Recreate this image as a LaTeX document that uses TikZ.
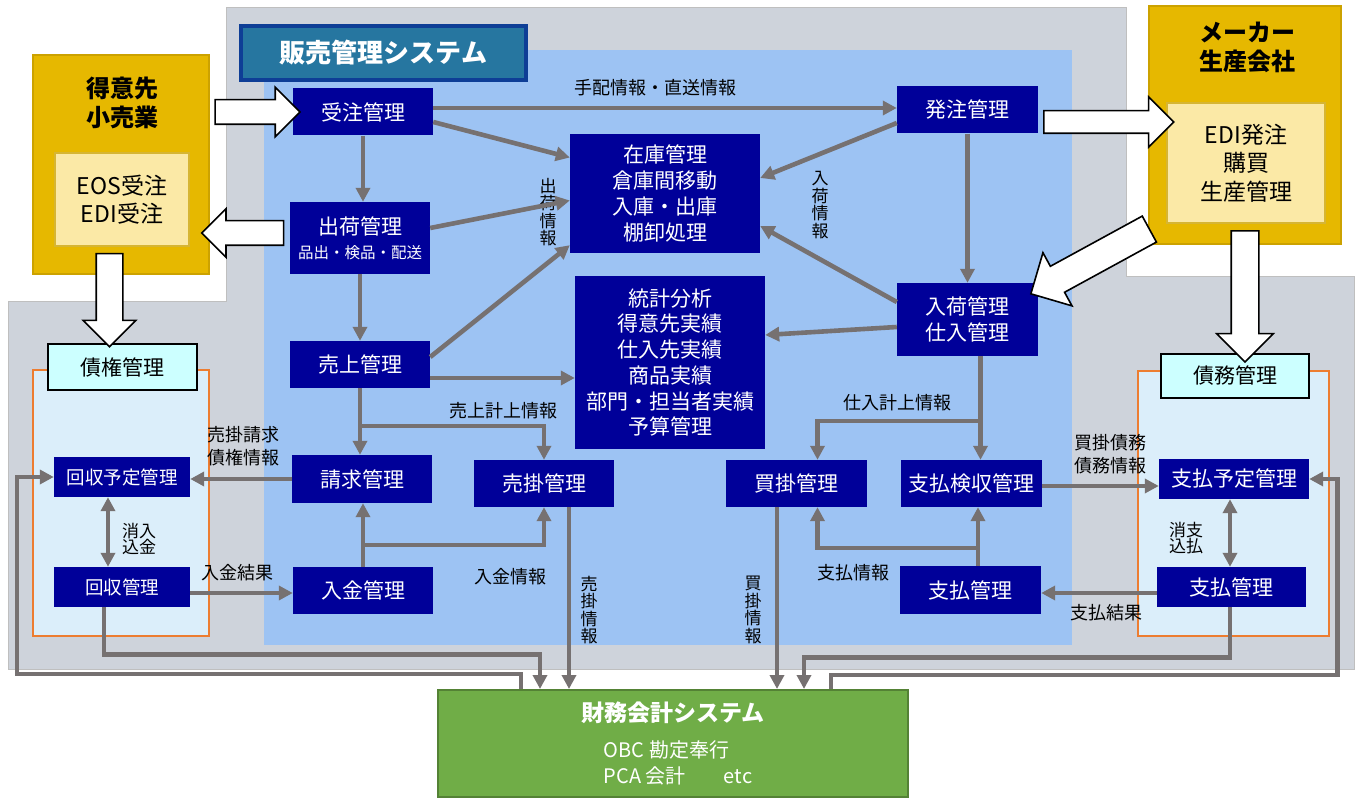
\documentclass[tikz,border=0pt]{standalone}
\usepackage{fontspec}
\setmainfont{Noto Sans CJK JP}
\usetikzlibrary{arrows.meta,shapes.arrows}

\definecolor{navy}{RGB}{0,0,153}
\definecolor{arrowgray}{RGB}{118,113,113}
\definecolor{areagray}{RGB}{206,211,219}
\definecolor{areablue}{RGB}{157,195,243}
\definecolor{ledgerfill}{RGB}{219,238,250}
\definecolor{ledgerline}{RGB}{237,125,49}
\definecolor{gold}{RGB}{230,184,0}
\definecolor{goldline}{RGB}{204,162,0}
\definecolor{paleyellow}{RGB}{251,233,166}
\definecolor{titleblue}{RGB}{38,118,160}
\definecolor{titleline}{RGB}{14,62,150}
\definecolor{acctgreen}{RGB}{112,173,71}
\definecolor{acctline}{RGB}{84,130,53}
\definecolor{palecyan}{RGB}{204,255,255}

\tikzstyle{region} = [-, draw=black!25, fill=areagray, line width=1pt]
\tikzstyle{ledger} = [-, draw=ledgerline, fill=ledgerfill, line width=2pt]
\tikzstyle{block} = [rectangle, fill=navy, text=white, align=center, inner sep=0pt,
    minimum width=140pt, minimum height=47pt, font=\fontsize{21}{25.7}\selectfont]
\tikzstyle{ledgerblock} = [block, minimum width=136pt, minimum height=40pt,
    font=\fontsize{18.5}{22}\selectfont]
\tikzstyle{ledgertitle} = [rectangle, draw=black, fill=palecyan, line width=2pt, inner sep=0pt,
    minimum width=149pt, minimum height=46pt, font=\fontsize{21}{25}\selectfont]
\tikzstyle{partner} = [rectangle, draw=goldline, fill=gold, line width=2pt]
\tikzstyle{partnerbox} = [rectangle, draw=goldline!80, fill=paleyellow, line width=2pt,
    align=center, inner sep=0pt, font=\fontsize{23}{28.5}\selectfont]
\tikzstyle{partnertitle} = [align=center, inner sep=0pt, font=\bfseries\fontsize{24}{28.5}\selectfont]
\tikzstyle{systitle} = [rectangle, draw=titleline, fill=titleblue, line width=3.5pt, text=white,
    minimum width=285pt, minimum height=54pt, font=\bfseries\fontsize{26}{30}\selectfont]
\tikzstyle{acctbox} = [rectangle, draw=acctline, fill=acctgreen, line width=2pt,
    minimum width=470pt, minimum height=107pt]
\tikzstyle{flow} = [color=arrowgray, line width=4.6pt]
\tikzstyle{flowlabel} = [align=center, inner sep=0pt, font=\fontsize{18}{23}\selectfont]
\tikzstyle{vlabel} = [align=center, inner sep=0pt, font=\fontsize{17}{17.5}\selectfont]
\tikzstyle{pairlabel} = [align=center, inner sep=0pt, font=\fontsize{17}{16.5}\selectfont]
\tikzstyle{bigarrow} = [single arrow, draw=black, fill=white, line width=1.6pt,
    inner xsep=0pt, inner ysep=11.5pt, sloped, allow upside down, single arrow head extend=12.5pt]

\begin{document}
\begin{tikzpicture}[->,>={Triangle[length=14pt,width=14pt]},x=1pt,y=-1pt]
  \useasboundingbox (0,0) rectangle (1355,799);

  % areas
  \draw[region] (226,8) -- (1126,8) -- (1126,277) -- (1354,277) -- (1354,669)
        -- (8,669) -- (8,302) -- (226,302) -- cycle;
  \fill[areablue] (264,50) rectangle (1072,645);
  \draw[ledger] (33,370) rectangle (209,636);
  \draw[ledger] (1138,371) rectangle (1329,636);

  % partners
  \node[partner, minimum width=176pt, minimum height=219pt] (tokui) at (121,164.5) {};
  \node[partnertitle] at (122,103) {得意先\\小売業};
  \node[partnerbox, minimum width=134pt, minimum height=93pt] (eos) at (122,199.5) {EOS受注\\EDI受注};
  \node[partner, minimum width=192pt, minimum height=238pt] (maker) at (1245,125) {};
  \node[partnertitle] at (1247,47.5) {メーカー\\生産会社};
  \node[partnerbox, minimum width=158pt, minimum height=120pt] (edi) at (1246,163) {EDI発注\\購買\\生産管理};

  \node[systitle] (sys) at (383.5,53) {販売管理システム};

  % sales system
  \node[block] (order) at (363,112) {受注管理};
  \node[block, minimum height=72pt] (ship) at (360,238)
       {出荷管理\\[-2pt]{\fontsize{15.5}{17}\selectfont 品出・検品・配送}};
  \node[block] (sales) at (360,364.5) {売上管理};
  \node[block, minimum width=190pt, minimum height=119pt] (stock) at (665,193.5)
       {在庫管理\\倉庫間移動\\入庫・出庫\\棚卸処理};
  \node[block, minimum width=190pt, minimum height=173pt] (stats) at (670,362.5)
       {統計分析\\得意先実績\\仕入先実績\\商品実績\\部門・担当者実績\\予算管理};
  \node[block, minimum width=141pt] (purch) at (967.5,110) {発注管理};
  \node[block, minimum width=141pt, minimum height=73pt] (recv) at (967.5,319.5) {入荷管理\\仕入管理};
  \node[block, minimum height=48pt] (bill) at (362,479) {請求管理};
  \node[block] (ar) at (544,483.5) {売掛管理};
  \node[block] (payin) at (363,590.5) {入金管理};
  \node[block, minimum width=141pt] (ap) at (796.5,483.5) {買掛管理};
  \node[block, minimum width=141pt] (insp) at (971.5,483.5) {支払検収管理};
  \node[block, minimum width=141pt, minimum height=48pt] (paymid) at (970.5,590) {支払管理};

  % ledgers
  \node[ledgertitle] (credit) at (122.5,367.5) {債権管理};
  \node[ledgerblock] (colplan) at (122,477) {回収予定管理};
  \node[ledgerblock] (col) at (122,587) {回収管理};
  \node[ledgertitle, minimum width=148pt, minimum height=44pt] (debt) at (1235,376) {債務管理};
  \node[ledgerblock, minimum width=150pt, font=\fontsize{21}{25}\selectfont] (payplan) at (1234,479) {支払予定管理};
  \node[ledgerblock, minimum width=149pt, font=\fontsize{21}{25}\selectfont] (pay) at (1231.5,587) {支払管理};

  % accounting
  \node[acctbox] (acct) at (673,743.5) {};
  \node[text=white, font=\bfseries\fontsize{23}{27}\selectfont] at (673,713) {財務会計システム};
  \node[text=white, align=left, font=\fontsize{20}{26}\selectfont] at (678,763)
       {OBC 勘定奉行\\PCA 会計\hspace{38pt}etc};

  % labels
  \node[flowlabel] at (655,88) {手配情報・直送情報};
  \node[vlabel] at (548,212) {出\\荷\\情\\報};
  \node[vlabel] at (820,205) {入\\荷\\情\\報};
  \node[flowlabel] at (503,411) {売上計上情報};
  \node[flowlabel] at (243,446) {売掛請求\\債権情報};
  \node[pairlabel] at (139,539) {消入\\込金};
  \node[flowlabel] at (237,573) {入金結果};
  \node[flowlabel] at (510,577) {入金情報};
  \node[vlabel] at (589,610) {売\\掛\\情\\報};
  \node[flowlabel] at (897,403) {仕入計上情報};
  \node[flowlabel] at (1110,454.5) {買掛債務\\債務情報};
  \node[pairlabel] at (1186,538) {消支\\込払};
  \node[flowlabel] at (1106,613) {支払結果};
  \node[flowlabel] at (853,573) {支払情報};
  \node[vlabel] at (753,610) {買\\掛\\情\\報};

  % flows, sales side
  \path[flow] ([yshift=4pt]order.east) edge ([yshift=2pt]purch.west)
        ([yshift=-10pt]order.east) edge ([yshift=36pt]stock.west)
        (order.south) edge (order.south |- ship.north)
        ([yshift=10pt]ship.east) edge ([yshift=-7pt]stock.west)
        (ship.south) edge (sales.north)
        ([yshift=7.5pt]sales.east) edge ([yshift=8pt]stock.south west)
        ([yshift=-13.5pt]sales.east) edge ([yshift=-15.5pt]stats.west)
        ([yshift=-13pt]purch.west) edge ([yshift=15.5pt]stock.east)
        ([yshift=17.5pt]recv.west) edge ([yshift=-32.5pt]stock.east)
        ([yshift=-7.5pt]recv.west) edge ([yshift=27.5pt]stats.east)
        (purch.south) edge (recv.north)
        (sales.south) edge (sales.south |- bill.north)
        (bill.west) edge (bill.west -| colplan.east)
        ([yshift=-6pt]col.east) edge ([yshift=-2.5pt]payin.west)
        (payin.north) edge (payin.north |- bill.south)
        ([xshift=25pt]ar.south) edge ([xshift=-104pt]acct.north);
  \coordinate (salessplit) at ([yshift=-38pt]sales.south);
  \coordinate (paysplit) at ([yshift=22pt]payin.north);
  \draw[flow] (salessplit) -| (ar.north);
  \draw[flow] (paysplit) -| (ar.south);
  \draw[flow,<->] ([xshift=-14pt]colplan.south) -- ([xshift=-14pt]col.north);
  \draw[flow] ([xshift=-18pt]col.south) -- ++(0,47) -| ([xshift=-133pt]acct.north);
  \draw[flow] ([xshift=-152pt]acct.north) -- ++(0,-15) -| ([xshift=-37pt]colplan.west) -- (colplan.west);

  % flows, purchase side
  \path[flow] ([xshift=13pt]recv.south) edge ([xshift=9pt]insp.north)
        ([yshift=-2.5pt]insp.east) edge ([yshift=-7pt]payplan.west)
        ([yshift=-6pt]pay.west) edge ([yshift=-3pt]paymid.east)
        ([xshift=7.5pt]paymid.north) edge ([xshift=6.5pt]insp.south)
        ([xshift=-19.5pt]ap.south) edge ([xshift=104pt]acct.north);
  \coordinate (recvsplit) at ([xshift=13pt,yshift=-65pt]recv.south);
  \coordinate (paymidsplit) at ([xshift=7.5pt,yshift=18pt]paymid.north);
  \draw[flow] (recvsplit) -| ([xshift=21pt]ap.north);
  \draw[flow] (paymidsplit) -| ([xshift=21pt]ap.south);
  \draw[flow,<->] ([xshift=-4pt]payplan.south) -- ([xshift=-1.5pt]pay.north);
  \draw[flow] ([xshift=-1.5pt]pay.south) -- ++(0,50) -| ([xshift=131pt]acct.north);
  \draw[flow] ([xshift=158pt]acct.north) -- ++(0,-14) -| ([xshift=28pt]payplan.east) -- (payplan.east);

  % block arrows
  \path (tokui.east |- order.west) -- node[bigarrow, minimum height=85pt] {} (order.west);
  \path ([yshift=5pt]ship.west) -- node[bigarrow, minimum height=82pt,
        single arrow head extend=12pt] {} ++(-82,0);
  \path ([xshift=-12.5pt]eos.south) -- node[bigarrow, minimum height=93pt, inner ysep=12.5pt,
        single arrow head extend=13pt] {} ++(0,93);
  \path ([yshift=-12pt]purch.east) -- node[bigarrow, minimum height=130pt, inner ysep=10.5pt,
        single arrow head extend=14pt] {} ++(130,0);
  \path ([xshift=-11pt,yshift=-2pt]edi.south west) -- node[bigarrow, minimum height=135pt,
        inner ysep=14pt, single arrow head extend=15.5pt] {} ([yshift=-7pt]recv.north east);
  \path ([xshift=-1pt]edi.south) -- node[bigarrow, minimum height=131pt, inner ysep=13pt,
        single arrow head extend=14.5pt] {} ++(0,131);
\end{tikzpicture}
\end{document}
